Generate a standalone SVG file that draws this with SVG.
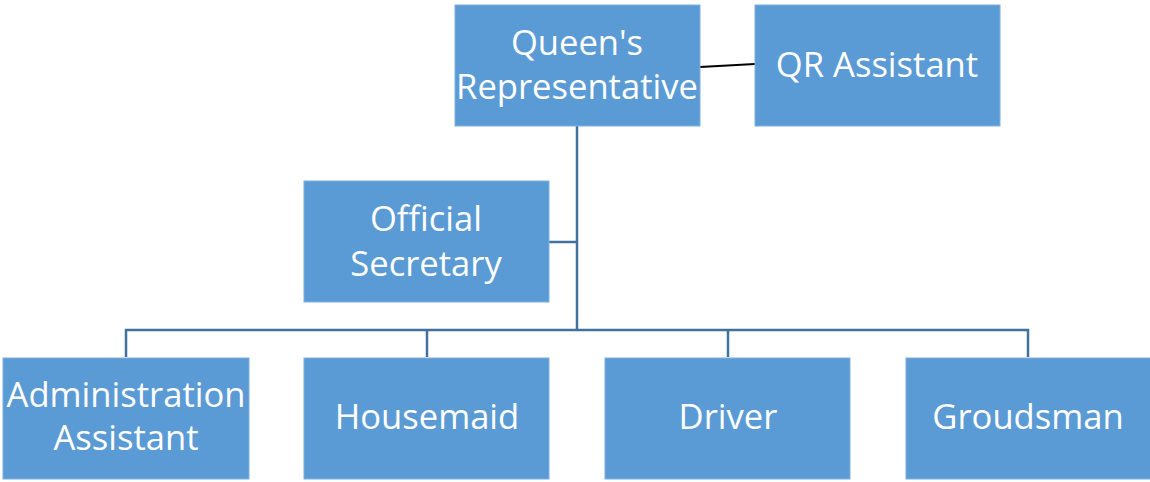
<svg xmlns="http://www.w3.org/2000/svg" width="1150" height="482" viewBox="0 0 1150 482">
  <style>
    .box { fill: #5B9BD5; stroke: #7FB0DE; stroke-width: 1; }
    .lbl { fill: #FFFFFF; font-family: "Open Sans", "Liberation Sans", sans-serif; font-size: 34.6px; text-anchor: middle; }
    .conn { fill: none; stroke: #41719C; stroke-width: 2.5; }
    .side { fill: none; stroke: #000000; stroke-width: 2; }
  </style>
  <rect width="1150" height="482" fill="#FFFFFF"/>

  <!-- connectors -->
  <g id="connectors">
    <path class="conn" d="M577 126 V330"/>
    <path class="conn" d="M549 242 H577"/>
    <path class="conn" d="M126 357 V330 H1028 V357"/>
    <path class="conn" d="M427 330 V357"/>
    <path class="conn" d="M728 330 V357"/>
    <path class="side" d="M700 67 L755 64"/>
  </g>

  <g id="queens-rep">
    <rect class="box" x="455" y="5" width="245" height="121"/>
    <text class="lbl" x="577" y="55">Queen's</text>
    <text class="lbl" x="577" y="99">Representative</text>
  </g>

  <g id="qr-assistant">
    <rect class="box" x="755" y="5" width="245" height="121"/>
    <text class="lbl" x="877" y="77">QR Assistant</text>
  </g>

  <g id="official-secretary">
    <rect class="box" x="304" y="181" width="245" height="121"/>
    <text class="lbl" x="426" y="231">Official</text>
    <text class="lbl" x="426" y="276">Secretary</text>
  </g>

  <g id="admin-assistant">
    <rect class="box" x="3" y="358" width="246" height="121"/>
    <text class="lbl" x="126" y="407">Administration</text>
    <text class="lbl" x="126" y="450">Assistant</text>
  </g>

  <g id="housemaid">
    <rect class="box" x="304" y="358" width="245" height="121"/>
    <text class="lbl" x="427" y="429">Housemaid</text>
  </g>

  <g id="driver">
    <rect class="box" x="605" y="358" width="245" height="121"/>
    <text class="lbl" x="728" y="429">Driver</text>
  </g>

  <g id="groudsman">
    <rect class="box" x="906" y="358" width="245" height="121"/>
    <text class="lbl" x="1028" y="429">Groudsman</text>
  </g>
</svg>
